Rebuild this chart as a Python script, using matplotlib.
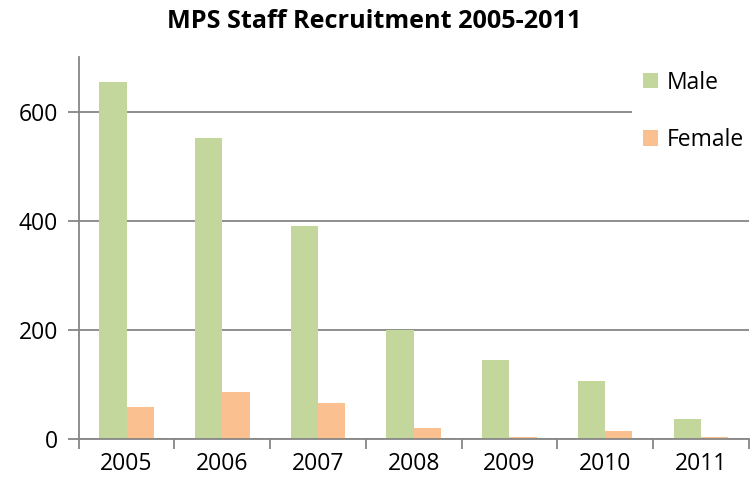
import matplotlib.pyplot as plt
import numpy as np

# MPS staff recruitment by year
years = ['2005', '2006', '2007', '2008', '2009', '2010', '2011']
male = [655, 552, 391, 200, 144, 106, 37]
female = [58, 86, 66, 21, 4, 14, 3]

green = '#C3D69B'
orange = '#FAC090'
grey = '#868686'

plt.rcParams['font.family'] = ['Open Sans', 'DejaVu Sans']

fig = plt.figure(figsize=(7.51, 4.86), dpi=100)
ax = fig.add_axes([0.1048, 0.0967, 0.8922, 0.7853])

x = np.arange(len(years))
w = 0.285
ax.bar(x - w / 2, male, w, color=green, label='Male', zorder=2)
ax.bar(x + w / 2, female, w, color=orange, label='Female', zorder=2)

ax.set_xlim(-0.5, len(years) - 0.5)
ax.set_ylim(0, 700)
ax.set_yticks([0, 200, 400, 600])
ax.yaxis.grid(True, color=grey, linewidth=1.3, zorder=0)
ax.set_axisbelow(True)

ax.set_xticks(x)
ax.set_xticklabels(years)
ax.set_xticks(np.arange(len(years) + 1) - 0.5, minor=True)
ax.tick_params(axis='x', which='major', length=0, pad=9, labelsize=16.5)
ax.tick_params(axis='x', which='minor', length=7, width=1.3, color=grey)
ax.tick_params(axis='y', length=8, width=1.3, color=grey, labelsize=16.5, pad=7)

for s in ['top', 'right']:
    ax.spines[s].set_visible(False)
for s in ['left', 'bottom']:
    ax.spines[s].set_color(grey)
    ax.spines[s].set_linewidth(1.3)

# title is centred on the whole figure, not the plot area
fig.text(0.498, 0.955, 'MPS Staff Recruitment 2005-2011', fontsize=18.2,
         fontweight='bold', ha='center', va='center')

leg = ax.legend(loc='upper left', bbox_to_anchor=(0.808, 1.025), fontsize=16.5,
                frameon=True, facecolor='white', edgecolor='none', framealpha=1,
                handlelength=0.65, handleheight=0.65, handletextpad=0.4,
                labelspacing=1.45, borderpad=0.5, fancybox=False)

fig.savefig('out.png', dpi=100)
